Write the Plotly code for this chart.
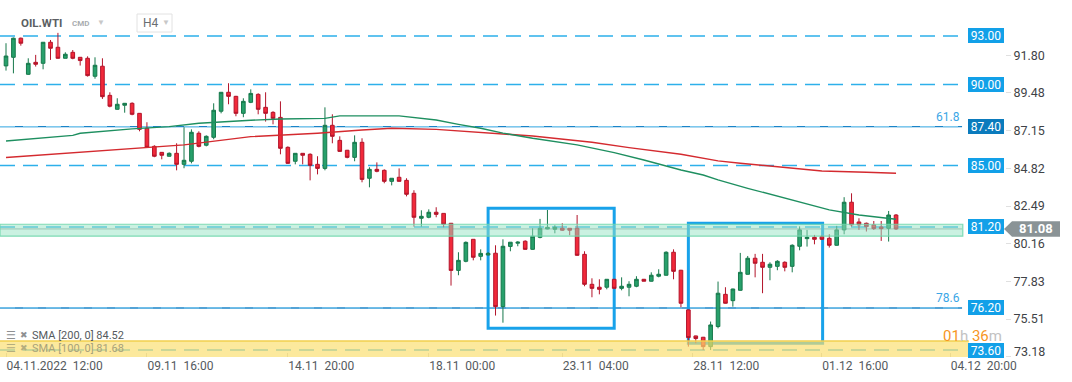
import plotly.graph_objects as go

# ---------------- data ----------------
bar_index = list(range(121))

opens = [91.15, 91.68, 92.86, 90.63, 91.37, 91.31, 92.61, 92.30, 91.62, 91.99,
         91.68, 91.62, 90.51, 91.13, 89.33, 88.47, 88.72, 88.84, 88.22, 87.30,
         86.18, 85.81, 85.57, 85.75, 85.07, 85.26, 86.99, 86.25, 86.74, 88.35,
         89.52, 89.27, 88.22, 88.90, 89.39, 88.59, 88.28, 87.97, 86.12, 85.26,
         85.75, 85.69, 85.07, 84.82, 87.48, 86.55, 85.94, 85.50, 86.43, 84.21,
         84.76, 84.70, 84.02, 84.27, 84.08, 83.28, 81.74, 81.80, 82.11, 82.04,
         81.43, 78.52, 79.08, 80.44, 79.39, 79.47, 79.58, 76.28, 80.00, 80.20,
         80.32, 79.82, 80.56, 81.08, 81.06, 81.12, 81.12, 81.12, 79.51, 77.66,
         77.48, 77.48, 77.97, 77.41, 77.48, 77.54, 77.97, 77.85, 78.16, 78.22,
         79.64, 78.53, 76.08, 74.47, 74.39, 73.81, 75.05, 77.04, 76.65, 77.29,
         78.28, 79.27, 79.02, 78.71, 78.77, 79.02, 78.77, 80.01, 80.48, 80.56,
         80.60, 80.50, 80.07, 81.02, 82.73, 81.51, 81.43, 81.33, 81.20, 81.12,
         81.94]
highs = [92.55, 92.90, 92.90, 91.62, 91.83, 92.61, 92.75, 93.19, 91.99, 92.13,
         91.70, 91.74, 91.68, 91.62, 89.52, 89.15, 88.86, 88.90, 88.24, 87.67,
         86.25, 85.83, 85.81, 86.37, 87.36, 87.23, 87.11, 86.86, 88.84, 89.52,
         90.08, 89.30, 89.15, 89.70, 89.46, 89.52, 88.35, 88.96, 86.18, 85.75,
         85.75, 85.75, 85.57, 88.59, 88.16, 86.80, 85.96, 86.86, 86.68, 84.89,
         85.19, 84.76, 84.21, 84.82, 84.21, 83.47, 82.23, 82.29, 82.42, 82.04,
         81.43, 79.64, 80.31, 80.44, 79.82, 79.65, 80.07, 80.44, 80.26, 80.32,
         80.38, 81.12, 81.70, 82.25, 81.31, 81.43, 81.12, 81.94, 79.70, 78.03,
         77.97, 77.97, 77.99, 78.09, 77.85, 78.16, 77.99, 78.40, 78.59, 79.70,
         79.82, 78.55, 76.10, 74.49, 74.41, 75.36, 77.83, 77.48, 77.39, 79.60,
         79.41, 79.54, 79.54, 79.02, 79.15, 79.08, 80.13, 81.24, 81.02, 80.71,
         80.70, 80.75, 81.27, 83.04, 83.28, 81.74, 81.47, 81.57, 81.57, 82.19,
         82.00]
lows = [90.86, 90.69, 92.40, 90.60, 91.11, 90.94, 91.52, 91.60, 91.62, 91.56,
        91.17, 90.49, 90.36, 89.11, 88.59, 88.45, 88.26, 88.10, 87.11, 86.10,
        85.51, 85.38, 85.55, 84.70, 84.83, 85.13, 86.12, 86.18, 86.62, 88.22,
        88.78, 88.04, 87.98, 88.85, 88.16, 87.71, 87.54, 85.69, 85.10, 85.07,
        85.07, 84.08, 84.45, 84.70, 86.37, 85.85, 85.44, 85.26, 83.96, 83.65,
        84.58, 83.90, 83.77, 84.00, 83.09, 81.22, 81.22, 81.74, 81.80, 81.18,
        77.58, 78.22, 79.02, 79.14, 79.14, 79.45, 75.73, 75.29, 79.70, 80.01,
        79.80, 79.80, 80.50, 81.06, 80.81, 80.96, 80.69, 79.43, 77.54, 76.86,
        77.04, 77.35, 77.41, 77.29, 76.92, 77.48, 77.85, 77.83, 78.09, 78.20,
        77.97, 76.24, 73.81, 74.02, 73.60, 73.60, 74.94, 76.47, 76.28, 77.27,
        78.26, 78.09, 77.11, 77.91, 78.53, 78.46, 78.40, 79.76, 79.99, 80.13,
        80.40, 79.93, 80.05, 80.75, 81.22, 81.02, 80.92, 81.02, 80.34, 80.30,
        81.02]
closes = [91.76, 92.86, 92.55, 91.31, 91.25, 92.61, 92.24, 91.62, 91.87, 91.62,
          91.48, 90.55, 91.19, 89.25, 88.66, 88.78, 88.84, 88.16, 87.23, 86.12,
          85.57, 85.63, 85.75, 85.07, 85.32, 87.05, 86.18, 86.80, 88.41, 89.52,
          89.27, 88.22, 88.96, 89.45, 88.47, 88.22, 87.91, 86.06, 85.13, 85.75,
          85.63, 85.01, 84.82, 87.48, 86.80, 85.87, 85.50, 86.43, 84.14, 84.76,
          84.64, 84.02, 84.21, 84.02, 83.22, 81.80, 81.86, 82.11, 81.98, 81.37,
          78.52, 79.14, 80.25, 79.33, 79.57, 79.57, 76.28, 80.01, 80.26, 80.26,
          79.82, 80.63, 81.12, 81.18, 81.18, 81.00, 81.00, 79.45, 77.66, 77.41,
          77.35, 77.97, 77.41, 77.54, 77.66, 77.97, 77.85, 78.22, 78.28, 79.64,
          78.46, 76.49, 74.37, 74.31, 73.81, 75.15, 77.11, 76.49, 77.37, 78.40,
          79.27, 78.96, 78.71, 78.90, 79.08, 78.71, 80.07, 81.02, 80.56, 80.44,
          80.44, 80.07, 81.02, 82.73, 81.33, 81.33, 81.22, 81.10, 81.10, 81.94,
          81.08]

sma200_idx = [0, 8, 17, 24, 33, 42, 48, 52, 58, 64, 71, 79, 84, 91, 96, 99, 106, 110, 116, 120]
sma200_val = [85.49, 85.75, 86.06, 86.27, 86.78, 86.99, 87.19, 87.30, 87.23, 87.03,
              86.82, 86.43, 86.10, 85.69, 85.28, 85.14, 84.83, 84.66, 84.58, 84.52]
sma100_idx = [0, 5, 9, 10, 17, 22, 26, 33, 37, 43, 45, 53, 58, 61, 64, 67, 71, 77,
              82, 86, 91, 94, 96, 100, 107, 111, 115, 119, 120]
sma100_val = [86.51, 86.72, 86.86, 86.99, 87.26, 87.40, 87.61, 87.79, 87.87, 87.91,
              88.06, 88.06, 87.81, 87.54, 87.30, 87.00, 86.68, 86.27, 85.79, 85.34,
              84.72, 84.41, 84.11, 83.59, 82.73, 82.26, 81.94, 81.74, 81.68]

dashed_levels = [93.00, 90.00, 85.00, 81.20, 73.60]
fib_levels = [87.40, 76.20]
fib_names = ["61.8", "78.6"]
label_levels = [93.00, 90.00, 87.40, 85.00, 81.20, 76.20, 73.60]
green_zone = [80.63, 81.37]
yellow_zone = [72.80, 74.16]
last_price = 81.08

box_x0 = [65, 92]
box_x1 = [82, 110.1]
box_y0 = [74.95, 74.02]
box_y1 = [82.36, 81.43]

ytick_vals = [91.80, 89.48, 87.15, 84.82, 82.49, 80.16, 77.83, 75.51, 73.18]
xtick_pos = [0, 19, 38, 57, 75, 92.6, 110, 127.3]
xtick_text = ["04.11.2022  12:00", "09.11  16:00", "14.11  20:00", "18.11  00:00",
              "23.11  04:00", "28.11  12:00", "01.12  16:00", "04.12  20:00"]

legend_texts = ["SMA [200, 0] 84.52", "SMA [100, 0] 81.68"]

# ---------------- layout geometry ----------------
W, H = 1072, 382
M_R, M_B = 67, 25
PLOT_W = W - M_R
PLOT_H = H - M_B
X_RANGE = [-0.81, 134.69]
Y_RANGE = [73.17, 95.22]
LINE_END = 128.9


def px(x):
    return x / PLOT_W


def py(y):
    return 1 - y / PLOT_H


FONT = "Roboto, 'Open Sans', sans-serif"
BLUE = "#12a0e8"
DASH_BLUE = "#2db0ea"

fig = go.Figure()

fig.add_trace(go.Candlestick(
    x=bar_index, open=opens, high=highs, low=lows, close=closes,
    increasing=dict(fillcolor="#27a06b", line=dict(color="#16784b", width=1)),
    decreasing=dict(fillcolor="#f2293a", line=dict(color="#b3142a", width=1)),
    whiskerwidth=0, showlegend=False, hoverinfo="skip",
))
fig.add_trace(go.Scatter(x=sma200_idx, y=sma200_val, mode="lines",
                         line=dict(color="#d42a2f", width=1.4), showlegend=False,
                         hoverinfo="skip"))
fig.add_trace(go.Scatter(x=sma100_idx, y=sma100_val, mode="lines",
                         line=dict(color="#1e8f60", width=1.4), showlegend=False,
                         hoverinfo="skip"))

shapes = []
# dashed levels
for v in dashed_levels:
    shapes.append(dict(type="line", xref="x", yref="y", x0=X_RANGE[0], x1=LINE_END,
                       y0=v, y1=v, layer="below",
                       line=dict(color=DASH_BLUE, width=1.4, dash="15px,8px")))
# fibonacci levels (solid + dashed overlay)
for v in fib_levels:
    shapes.append(dict(type="line", xref="x", yref="y", x0=X_RANGE[0], x1=LINE_END,
                       y0=v, y1=v, layer="below",
                       line=dict(color="#1a84c8", width=1.4)))
    shapes.append(dict(type="line", xref="x", yref="y", x0=X_RANGE[0], x1=LINE_END,
                       y0=v, y1=v, layer="below",
                       line=dict(color="#7cc8ee", width=1.2, dash="15px,8px")))
# current price line
shapes.append(dict(type="line", xref="x", yref="y", x0=X_RANGE[0], x1=LINE_END,
                   y0=last_price, y1=last_price, layer="below",
                   line=dict(color="#9aa4a6", width=1)))
# rectangles
for a, b, c, d in zip(box_x0, box_x1, box_y0, box_y1):
    shapes.append(dict(type="rect", xref="x", yref="y", x0=a, x1=b, y0=c, y1=d,
                       layer="below", line=dict(color="#18a2ea", width=3)))
# zones (drawn above the candles, translucent)
shapes.append(dict(type="rect", xref="x", yref="y", x0=X_RANGE[0], x1=LINE_END + 0.1,
                   y0=green_zone[0], y1=green_zone[1], layer="above",
                   fillcolor="rgba(150,228,196,0.5)",
                   line=dict(color="rgba(110,214,170,0.85)", width=1.2)))
shapes.append(dict(type="rect", xref="x", yref="y", x0=X_RANGE[0], x1=LINE_END + 0.9,
                   y0=yellow_zone[0], y1=yellow_zone[1], layer="above",
                   fillcolor="rgba(251,222,110,0.68)", line=dict(width=0)))
shapes.append(dict(type="line", xref="x", yref="y", x0=X_RANGE[0], x1=LINE_END + 0.9,
                   y0=yellow_zone[1], y1=yellow_zone[1], layer="above",
                   line=dict(color="#f2cf4e", width=1.5)))
# last price tag
ph = 0.48
shapes.append(dict(type="path", xref="paper", yref="y", layer="above",
                   path=(f"M {px(1004)},{last_price} L {px(1012)},{last_price + ph} "
                         f"L {px(1060)},{last_price + ph} L {px(1060)},{last_price - ph} "
                         f"L {px(1012)},{last_price - ph} Z"),
                   fillcolor="#8a9396", line=dict(width=0)))
# H4 selector box
shapes.append(dict(type="rect", xref="paper", yref="paper", layer="above",
                   x0=px(137), x1=px(172), y0=py(32), y1=py(14),
                   fillcolor="white", line=dict(color="#e2e2e2", width=1)))

annotations = []
for v in label_levels:
    annotations.append(dict(xref="paper", yref="y", x=px(1004), y=v, xanchor="right",
                            yanchor="middle", text=f"{v:.2f}", showarrow=False,
                            font=dict(family=FONT, size=12, color="white"),
                            bgcolor="#0b7bbd" if v in fib_levels[:1] else BLUE,
                            borderpad=0, borderwidth=0, width=36, height=15))
for v, name in zip(fib_levels, fib_names):
    annotations.append(dict(xref="x", yref="y", x=LINE_END, y=v, xanchor="right",
                            yanchor="bottom", text=name, showarrow=False, yshift=1,
                            font=dict(family=FONT, size=12, color="#3aa6e6")))
annotations.append(dict(xref="paper", yref="y", x=px(1036), y=last_price,
                        xanchor="center", yanchor="middle", text=f"<b>{last_price:.2f}</b>",
                        showarrow=False, font=dict(family=FONT, size=13, color="white")))
annotations.append(dict(xref="paper", yref="y", x=px(1004), y=yellow_zone[1],
                        xanchor="right", yanchor="bottom", yshift=-6, showarrow=False,
                        text=("<span style='color:#f7961f'>01</span><span style='color:#c2c2c2'>h</span> "
                              "<span style='color:#f7961f'>36</span><span style='color:#c2c2c2'>m</span>"),
                        font=dict(family=FONT, size=15)))
# bottom y tick label is lifted so it stays inside the chart, like the reference
annotations.append(dict(xref="paper", yref="y", x=px(1012), y=ytick_vals[-1],
                        xanchor="left", yanchor="middle", yshift=5, showarrow=False,
                        text=f"{ytick_vals[-1]:.2f}",
                        font=dict(family=FONT, size=12.5, color="#3f4347")))
# header
annotations.append(dict(xref="paper", yref="paper", x=px(19), y=py(23), xanchor="left",
                        yanchor="middle", text="<b>OIL.WTI</b>", showarrow=False,
                        font=dict(family=FONT, size=11.5, color="#5b5f63")))
annotations.append(dict(xref="paper", yref="paper", x=px(70), y=py(24), xanchor="left",
                        yanchor="middle", text="<b>CMD</b>", showarrow=False,
                        font=dict(family=FONT, size=8, color="#a9adb0")))
annotations.append(dict(xref="paper", yref="paper", x=px(95), y=py(22), xanchor="left",
                        yanchor="middle", text="▼", showarrow=False,
                        font=dict(family=FONT, size=8, color="#c8c8c8")))
annotations.append(dict(xref="paper", yref="paper", x=px(141), y=py(23), xanchor="left",
                        yanchor="middle", text="H4", showarrow=False,
                        font=dict(family=FONT, size=12, color="#6a6e72")))
annotations.append(dict(xref="paper", yref="paper", x=px(160), y=py(23), xanchor="left",
                        yanchor="middle", text="▼", showarrow=False,
                        font=dict(family=FONT, size=8, color="#c8c8c8")))
# indicator legend
legend_y = [335, 348]
legend_col = ["#555a5e", "#a8a27a"]
icon_col = ["#8e9092", "#b4ad7e"]
for t, yy, c, ic in zip(legend_texts, legend_y, legend_col, icon_col):
    annotations.append(dict(xref="paper", yref="paper", x=px(4), y=py(yy), xanchor="left",
                            yanchor="middle", text="☰", showarrow=False,
                            font=dict(family="DejaVu Sans", size=11, color=ic)))
    annotations.append(dict(xref="paper", yref="paper", x=px(18), y=py(yy), xanchor="left",
                            yanchor="middle", text="✖", showarrow=False,
                            font=dict(family="DejaVu Sans", size=9, color=ic)))
    annotations.append(dict(xref="paper", yref="paper", x=px(30), y=py(yy), xanchor="left",
                            yanchor="middle", text=t, showarrow=False,
                            font=dict(family=FONT, size=11, color=c)))

fig.update_layout(
    width=W, height=H,
    margin=dict(l=0, r=M_R, t=0, b=M_B),
    paper_bgcolor="white", plot_bgcolor="white",
    shapes=shapes, annotations=annotations,
    showlegend=False, hovermode=False,
    font=dict(family=FONT),
    xaxis=dict(range=X_RANGE, showgrid=False, zeroline=False, showline=False,
               rangeslider=dict(visible=False), tickmode="array",
               tickvals=xtick_pos, ticktext=xtick_text, ticks="inside", ticklen=4,
               tickcolor="#d0d0d0", ticklabelposition="outside right",
               tickfont=dict(family=FONT, size=12, color="#555a5e")),
    yaxis=dict(range=Y_RANGE, side="right", showgrid=False, zeroline=False,
               showline=False, tickmode="array", tickvals=ytick_vals,
               ticktext=[f"{v:.2f}" for v in ytick_vals[:-1]] + [""],
               ticks="outside", ticklen=5,
               tickcolor="#e0e0e0", tickfont=dict(family=FONT, size=12.5, color="#3f4347")),
)

fig.write_html("out.html", config={"displayModeBar": False},
               post_script="document.body.style.margin='0px';")
